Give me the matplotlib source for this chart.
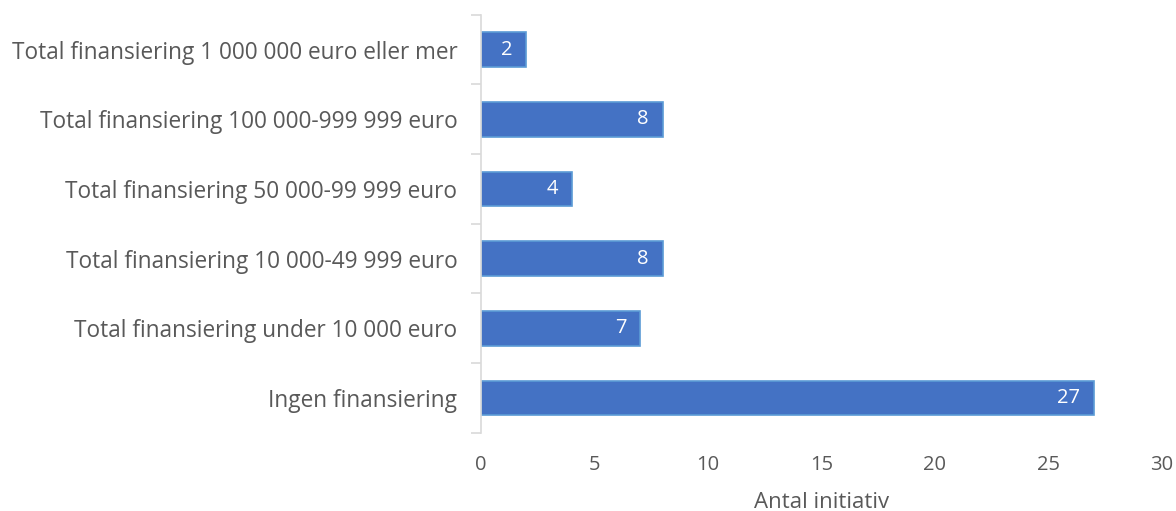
import numpy as np
import matplotlib.pyplot as plt

# Data (bottom to top)
categories = ["Ingen finansiering",
              "Total finansiering under 10 000 euro",
              "Total finansiering 10 000-49 999 euro",
              "Total finansiering 50 000-99 999 euro",
              "Total finansiering 100 000-999 999 euro",
              "Total finansiering 1 000 000 euro eller mer"]
values = [27, 7, 8, 4, 8, 2]
xticks = [0, 5, 10, 15, 20, 25, 30]

plt.rcParams['font.family'] = ['Open Sans', 'DejaVu Sans']
grey = '#595959'

fig = plt.figure(figsize=(11.76, 5.11), dpi=100)
ax = fig.add_axes([0.409, 0.153, 0.579, 0.818])

y = np.arange(len(categories))
bars = ax.barh(y, values, height=0.5, color='#4472C4', edgecolor='#5B9BD5', linewidth=1.2)

for b, v in zip(bars, values):
    ax.text(v - 0.6, b.get_y() + b.get_height()/2, str(v), ha='right', va='center',
            color='white', fontsize=14.5)

ax.set_xlim(0, 30)
ax.set_ylim(-0.5, len(categories) - 0.5)
ax.set_xticks(xticks)
ax.set_xticklabels([str(t) for t in xticks], fontsize=14.5, color=grey)
ax.set_yticks(y)
ax.set_yticklabels(categories, fontsize=16.3, color=grey)
ax.set_yticks(np.arange(-0.5, len(categories)), minor=True)

ax.tick_params(axis='x', length=0, pad=16)
ax.tick_params(axis='y', which='major', length=0, pad=17)
ax.tick_params(axis='y', which='minor', length=7, color='#D9D9D9', width=1.2)

for s in ['top', 'right', 'bottom']:
    ax.spines[s].set_visible(False)
ax.spines['left'].set_color('#D9D9D9')
ax.spines['left'].set_linewidth(1.2)

ax.set_xlabel("Antal initiativ", fontsize=16, color=grey, labelpad=12)

fig.savefig("out.png", dpi=100)
